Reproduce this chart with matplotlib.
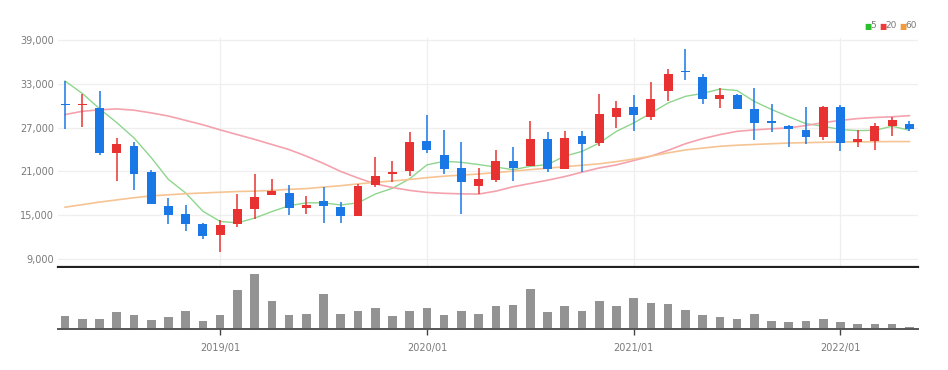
import matplotlib
matplotlib.use("Agg")
import matplotlib.pyplot as plt
import numpy as np

# monthly candles, 2018/04 - 2022/05
months = ["2018/04", "2018/05", "2018/06", "2018/07", "2018/08", "2018/09", "2018/10", "2018/11", "2018/12",
          "2019/01", "2019/02", "2019/03", "2019/04", "2019/05", "2019/06", "2019/07", "2019/08", "2019/09",
          "2019/10", "2019/11", "2019/12", "2020/01", "2020/02", "2020/03", "2020/04", "2020/05", "2020/06",
          "2020/07", "2020/08", "2020/09", "2020/10", "2020/11", "2020/12", "2021/01", "2021/02", "2021/03",
          "2021/04", "2021/05", "2021/06", "2021/07", "2021/08", "2021/09", "2021/10", "2021/11", "2021/12",
          "2022/01", "2022/02", "2022/03", "2022/04", "2022/05"]

opens = [30300, 30100, 29700, 23500, 24500, 20900, 16300, 15200, 13800, 12300,
         13800, 15800, 17800, 18100, 16000, 16900, 16100, 14900, 19200, 20600,
         21000, 25200, 23300, 21500, 19000, 19800, 22500, 21800, 25400, 21400,
         25800, 24900, 28500, 29800, 28500, 32100, 34800, 34000, 31000, 31500,
         29500, 27800, 27300, 26700, 25700, 29900, 25100, 25200, 27300, 27500]
highs = [33400, 31600, 32000, 25600, 25000, 21200, 17400, 16400, 13900, 14300,
         17900, 20700, 20000, 19200, 17600, 18900, 16800, 19300, 23000, 22400,
         26400, 28800, 26700, 25100, 21500, 24000, 24300, 27900, 26400, 26500,
         26500, 31600, 30600, 31500, 33200, 35100, 37800, 34400, 32400, 31600,
         32500, 30200, 27400, 29800, 30000, 30100, 26700, 27700, 28400, 27900]
lows = [26800, 27100, 23200, 19700, 18400, 16500, 13800, 12900, 11800, 10000,
        13400, 14500, 17800, 15000, 15100, 13900, 14000, 14900, 18900, 19500,
        20400, 23600, 20600, 15100, 17950, 19600, 19700, 21700, 20900, 21300,
        20900, 24500, 26900, 26600, 28100, 30700, 33600, 30300, 29700, 29500,
        25300, 26400, 24400, 24800, 25300, 23800, 24400, 24000, 25900, 26600]
closes = [30100, 30300, 23500, 24700, 20700, 16600, 15000, 13800, 12100, 13700,
          15800, 17500, 18300, 16000, 16400, 16300, 14900, 19000, 20400, 20900,
          25100, 24000, 21300, 19500, 19900, 22500, 21500, 25400, 21300, 25600,
          24800, 28900, 29700, 28800, 30900, 34300, 34600, 30900, 31500, 29600,
          27700, 27700, 26800, 25700, 29800, 24900, 25400, 27300, 28000, 26800]

ma5 = [33400, 31700, 29600, 27700, 25600, 22900, 19900, 18050, 15550, 14150,
       13950, 14600, 15500, 16300, 16700, 16700, 16400, 16700, 17900, 18700,
       20000, 21900, 22400, 22250, 21950, 21600, 21250, 21700, 21950, 23100,
       23750, 24900, 26500, 27650, 29000, 30400, 31300, 31700, 32300, 32100,
       30600, 29500, 28500, 27550, 27200, 26750, 26600, 26650, 27200, 26650]
ma20 = [28800, 29250, 29450, 29580, 29400, 29030, 28600, 28000, 27400, 26700,
        26050, 25400, 24700, 24000, 23100, 22100, 21000, 20100, 19300, 18800,
        18400, 18130, 18000, 17930, 17900, 18300, 18900, 19350, 19800, 20300,
        20900, 21480, 21900, 22500, 23100, 23900, 24800, 25500, 26050, 26500,
        26700, 26850, 26970, 27300, 27700, 28000, 28250, 28400, 28500, 28650]
ma60 = [16100, 16450, 16800, 17100, 17400, 17650, 17800, 17950, 18050, 18150,
        18250, 18300, 18400, 18550, 18650, 18850, 19050, 19300, 19500, 19700,
        19900, 20150, 20350, 20500, 20650, 20850, 21050, 21250, 21450, 21650,
        21850, 22050, 22350, 22700, 23100, 23550, 23950, 24200, 24450, 24600,
        24700, 24800, 24900, 24950, 25000, 25050, 25050, 25080, 25100, 25100]

# volume (thousand shares, estimated)
volumes = [133, 100, 100, 167, 143, 93, 117, 183, 83, 143,
           393, 553, 283, 143, 150, 353, 150, 177, 210, 127,
           183, 210, 143, 183, 150, 227, 243, 400, 167, 227,
           183, 277, 227, 310, 260, 250, 193, 143, 117, 100,
           150, 83, 67, 83, 100, 67, 50, 50, 50, 15]

year_ticks = ["2019/01", "2020/01", "2021/01", "2022/01"]

UP = "#e83232"
DOWN = "#1a78e6"
GRID = "#efefef"
TXT = "#7a7a7a"
FONT = ["Liberation Sans Narrow", "DejaVu Sans"]

fig = plt.figure(figsize=(9.48, 3.70), dpi=100)
ax = fig.add_axes([58 / 948, 1 - 267 / 370, 860 / 948, 229 / 370])
axv = fig.add_axes([58 / 948, 1 - 329 / 370, 860 / 948, 61 / 370])

x = np.arange(len(months))
o = np.array(opens)
c = np.array(closes)
colors = [UP if cc >= oo else DOWN for oo, cc in zip(o, c)]

# price panel
ax.vlines(x, lows, highs, colors=colors, linewidth=1.1, zorder=3)
body_bottom = np.minimum(o, c)
body_h = np.maximum(np.abs(c - o), 180)
ax.bar(x, body_h, bottom=body_bottom, width=0.52, color=colors, zorder=4)

ax.plot(x, ma5, color="#8ed68e", linewidth=1.0, zorder=2)
ax.plot(x, ma20, color="#f4a2ad", linewidth=1.2, zorder=2)
ax.plot(x, ma60, color="#f6c493", linewidth=1.2, zorder=2)

ax.set_xlim(-0.41, 49.5)
ax.set_ylim(7900, 39300)
ax.set_yticks([9000, 15000, 21000, 27000, 33000, 39000])
ax.set_yticklabels(["{:,}".format(v) for v in [9000, 15000, 21000, 27000, 33000, 39000]])
tick_pos = [months.index(m) for m in year_ticks]
ax.set_xticks(tick_pos)
ax.tick_params(axis="x", length=0, labelbottom=False)
ax.tick_params(axis="y", length=0, pad=3, labelsize=7, labelcolor=TXT)
ax.grid(True, color=GRID, linewidth=0.9, zorder=0)
for s in ["top", "right", "left"]:
    ax.spines[s].set_visible(False)
ax.spines["bottom"].set_color("#222222")
ax.spines["bottom"].set_linewidth(1.6)
for lab in ax.get_yticklabels():
    lab.set_family(FONT)

# volume panel
axv.bar(x, volumes, width=0.5, color="#939393", zorder=2)
axv.set_xlim(-0.41, 49.5)
axv.set_ylim(0, max(volumes) * 1.1)
axv.set_yticks([])
axv.set_xticks(tick_pos)
axv.set_xticklabels(year_ticks)
axv.tick_params(axis="x", length=4, width=1, color="#444444", pad=6, labelsize=7, labelcolor=TXT)
for lab in axv.get_xticklabels():
    lab.set_family(FONT)
for s in ["top", "right", "left"]:
    axv.spines[s].set_visible(False)
axv.spines["bottom"].set_color("#555555")
axv.spines["bottom"].set_linewidth(1.4)

# legend top right
items = [("5", "#2cbf2c", 864), ("20", "#ef3a3a", 879), ("60", "#f29a3c", 899)]
for label, col, px in items:
    fig.text(px / 948, 1 - 26 / 370, "\u25a0", color=col, fontsize=5.5, va="center", ha="left")
    fig.text((px + 6) / 948, 1 - 26 / 370, label, color=TXT, fontsize=6.5, va="center", ha="left",
             family=FONT)

fig.savefig("out.png", dpi=100, facecolor="white")
